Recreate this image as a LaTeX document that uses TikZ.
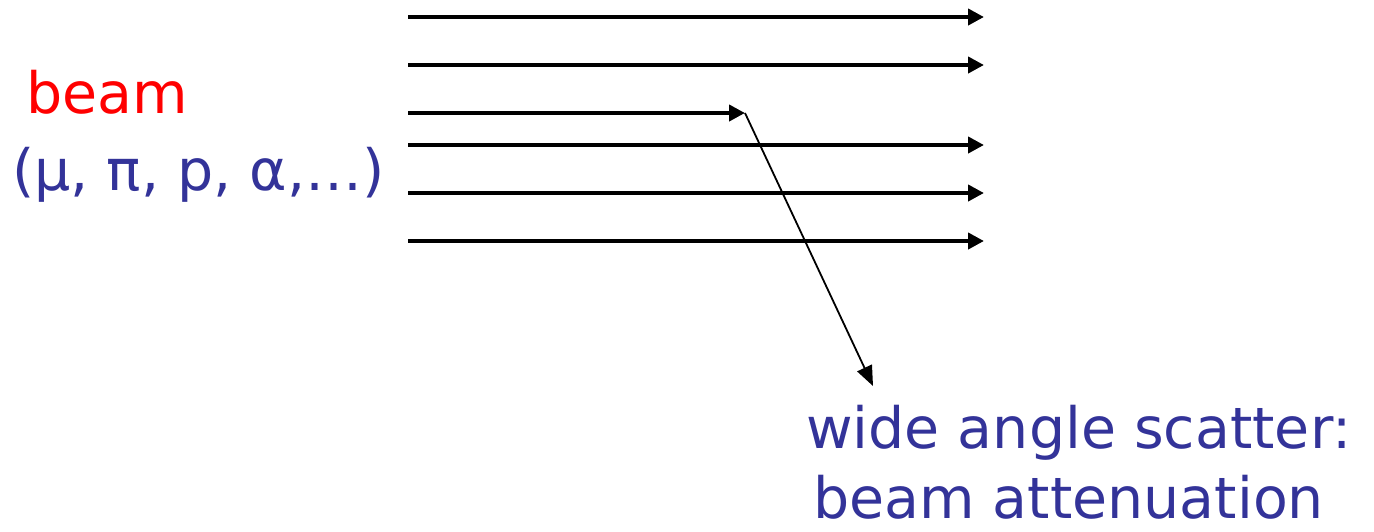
\documentclass[tikz,border=0pt]{standalone}
\usepackage{fontspec}
\setmainfont{DejaVu Sans}
\usetikzlibrary{arrows.meta}
\definecolor{txtblue}{RGB}{51,51,153}
\definecolor{txtred}{RGB}{255,0,0}
\tikzset{
  beamline/.style={line width=4pt, -{Triangle[length=16pt,width=16pt]}},
  scatline/.style={line width=1.8pt, -{Triangle[length=20pt,width=16pt]}},
  lbl/.style={inner sep=0pt, anchor=base west, font=\fontsize{57}{68}\selectfont}
}
\begin{document}
\begin{tikzpicture}[x=1pt,y=-1pt]
\useasboundingbox (0,0) rectangle (1374,531);
% beam lines
\foreach \n/\y in {a/17,b/65,d/145,e/193,f/241}{
  \coordinate (s\n) at (408,\y);
  \coordinate (t\n) at (984,\y);
  \draw[beamline] (s\n) -- (t\n);
}
\coordinate (sc) at (408,113);
\coordinate (tc) at (745,113);
\draw[beamline] (sc) -- (tc);
\coordinate (scatend) at (873,386);
\draw[scatline] (tc) -- (scatend);
% labels
\node[lbl, text=txtred] (beam) at (26,113) {beam};
\node[lbl, text=txtblue] (parts) at (12,190) {(μ, π, p, α,…)};
\node[lbl, text=txtblue] (wide) at (806,448) {wide angle scatter:};
\node[lbl, text=txtblue] (atten) at (813,518) {beam attenuation};
\end{tikzpicture}
\end{document}
